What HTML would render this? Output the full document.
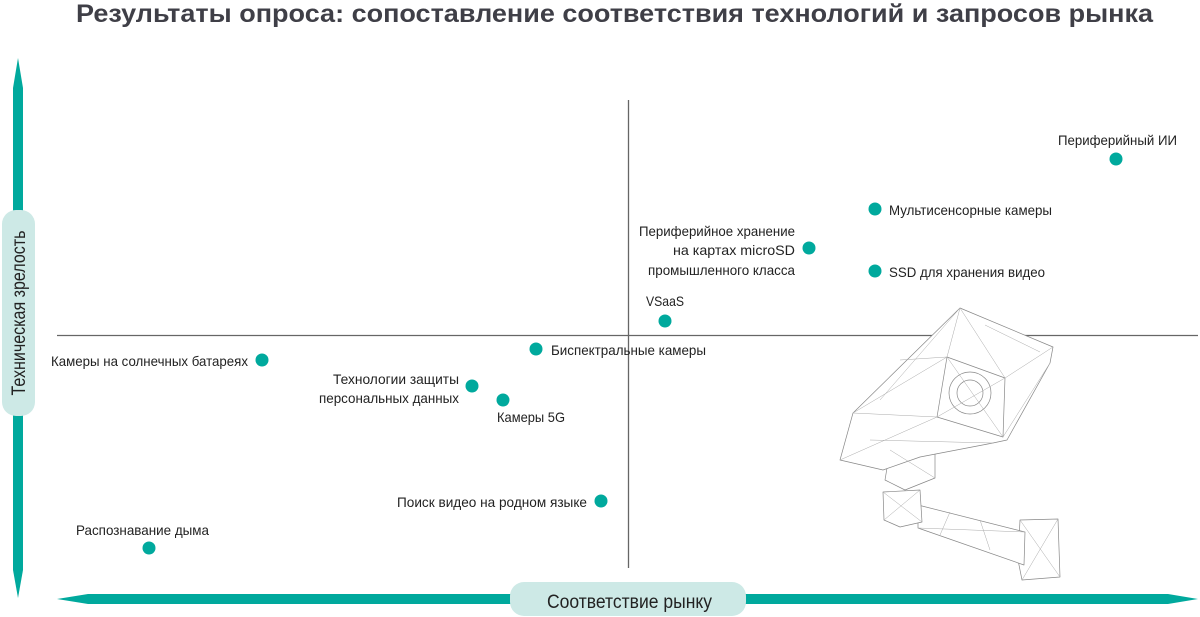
<!DOCTYPE html>
<html><head><meta charset="utf-8"><style>
html,body{margin:0;padding:0;background:#fff;}
svg{display:block;}
text{font-family:"Liberation Sans Narrow","Liberation Sans",sans-serif;fill:#222;}
.l{font-size:14px;}
</style></head><body>
<svg width="1200" height="617" viewBox="0 0 1200 617" xmlns="http://www.w3.org/2000/svg">
<text x="76" y="22" textLength="1077" lengthAdjust="spacingAndGlyphs" style="font-family:'Liberation Sans',sans-serif;font-size:25px;font-weight:bold;fill:#3f3f47">Результаты опроса: сопоставление соответствия технологий и запросов рынка</text>
<!-- crosshair -->
<line x1="628.5" y1="100" x2="628.5" y2="568" stroke="#666" stroke-width="1.3"/>
<line x1="57" y1="335.5" x2="1198" y2="335.5" stroke="#666" stroke-width="1.3"/>
<!-- vertical axis -->
<polygon points="18,58 23,88 23,570 18,598 13,570 13,88" fill="#00a99d"/>
<rect x="2" y="210" width="33" height="206" rx="14" fill="#cde9e6"/>
<text transform="translate(25,313) rotate(-90)" text-anchor="middle" textLength="165" lengthAdjust="spacingAndGlyphs" style="font-size:19px">Техническая зрелость</text>
<!-- horizontal axis -->
<polygon points="57,599 88,594 1168,594 1198,599 1168,604 88,604" fill="#00a99d"/>
<rect x="510" y="582" width="236" height="34" rx="14" fill="#cde9e6"/>
<text x="547" y="608" textLength="165" lengthAdjust="spacingAndGlyphs" style="font-size:19px">Соответствие рынку</text>
<!-- camera -->
<g fill="#fff" stroke="#888" stroke-width="0.7" stroke-linejoin="round">
<polygon points="1020,520 1058,519 1060,577 1022,580 1018,560"/>
<polygon points="918,505 1025,532 1024,565 918,528"/>
<polygon points="883,492 920,490 922,522 900,527 884,520"/>
<polygon points="890,450 935,452 935,478 905,490 885,480"/>
<polygon points="840,460 853,413 960,308 1053,347 1050,363 1007,440 993,443 920,457 883,470"/>
<polygon points="947,357 1005,378 1003,437 937,417" />
<circle cx="970" cy="393" r="21"/>
<circle cx="970" cy="393" r="13"/>
<g fill="none" stroke="#aaa" stroke-width="0.5">
<path d="M960,308 L947,357 M1053,347 L1005,378 M853,413 L937,417 M840,460 L937,417 M853,413 L947,357 M960,308 L1005,378 M900,360 L947,357 M870,440 L993,443 M1050,363 L1003,437 M985,325 L1040,352 M960,308 L880,400 M1025,532 L918,528 M950,512 L940,535 M980,520 L990,550 M1020,520 L1060,577 M1058,519 L1022,580 M890,450 L935,478 M883,492 L922,522 M920,490 L884,520 M937,417 L1005,378 M947,357 L1003,437"/>
</g>
</g>
<!-- dots -->
<g fill="#00a99d">
<circle cx="1116" cy="159" r="6.5"/><circle cx="875" cy="209" r="6.5"/><circle cx="809" cy="248" r="6.5"/>
<circle cx="875" cy="271" r="6.5"/><circle cx="665" cy="321" r="6.5"/><circle cx="536" cy="349" r="6.5"/>
<circle cx="262" cy="360" r="6.5"/><circle cx="472" cy="386" r="6.5"/><circle cx="503" cy="400" r="6.5"/>
<circle cx="601" cy="501" r="6.5"/><circle cx="149" cy="548" r="6.5"/>
</g>
<!-- labels -->
<g class="l">
<text class="l" x="1058" y="145" textLength="119" lengthAdjust="spacingAndGlyphs">Периферийный ИИ</text>
<text class="l" x="889" y="215" textLength="163" lengthAdjust="spacingAndGlyphs">Мультисенсорные камеры</text>
<text class="l" x="795" y="236" text-anchor="end" textLength="156" lengthAdjust="spacingAndGlyphs">Периферийное хранение</text>
<text class="l" x="795" y="255" text-anchor="end" textLength="122" lengthAdjust="spacingAndGlyphs">на картах microSD</text>
<text class="l" x="648" y="275" textLength="147" lengthAdjust="spacingAndGlyphs">промышленного класса</text>
<text class="l" x="889" y="277" textLength="156" lengthAdjust="spacingAndGlyphs">SSD для хранения видео</text>
<text class="l" x="646" y="306" textLength="38" lengthAdjust="spacingAndGlyphs">VSaaS</text>
<text class="l" x="551" y="355" textLength="155" lengthAdjust="spacingAndGlyphs">Биспектральные камеры</text>
<text class="l" x="51" y="366" textLength="197" lengthAdjust="spacingAndGlyphs">Камеры на солнечных батареях</text>
<text class="l" x="459" y="384" text-anchor="end" textLength="126" lengthAdjust="spacingAndGlyphs">Технологии защиты</text>
<text class="l" x="319" y="403" textLength="140" lengthAdjust="spacingAndGlyphs">персональных данных</text>
<text class="l" x="497" y="422" textLength="68" lengthAdjust="spacingAndGlyphs">Камеры 5G</text>
<text class="l" x="397" y="507" textLength="190" lengthAdjust="spacingAndGlyphs">Поиск видео на родном языке</text>
<text class="l" x="76" y="535" textLength="133" lengthAdjust="spacingAndGlyphs">Распознавание дыма</text>
</g>
</svg>
</body></html>
